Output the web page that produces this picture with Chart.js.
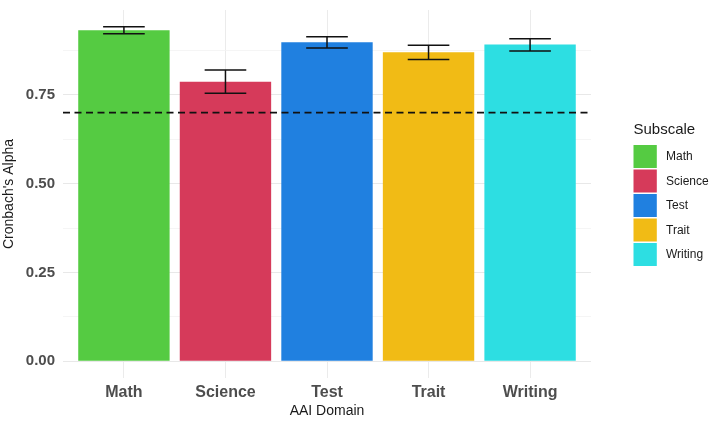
<!DOCTYPE html>
<html>
<head>
<meta charset="utf-8">
<script src="https://cdn.jsdelivr.net/npm/chart.js@4/dist/chart.umd.min.js"></script>
<style>
  html, body { margin: 0; padding: 0; background: #ffffff; }
  #wrap { width: 714px; height: 421px; }
</style>
</head>
<body>
<div id="wrap"><canvas id="c" width="714" height="421"></canvas></div>
<script>
// ---- data ----
const categories = ['Math', 'Science', 'Test', 'Trait', 'Writing'];
const alphaValues = [0.932, 0.787, 0.898, 0.870, 0.892];
const lowerCI = [0.922, 0.755, 0.882, 0.850, 0.874];
const upperCI = [0.942, 0.820, 0.914, 0.890, 0.908];
const yTickValues = [0, 0.25, 0.5, 0.75];
const thresholdValue = 0.7;
const legendTitle = 'Subscale';
const xTitle = 'AAI Domain';
const yTitle = "Cronbach's Alpha";

// ---- styles ----
const barColors = ['#55cb42', '#d63a5a', '#2080e0', '#f1bb15', '#2ddee2'];
const FONT = "'Liberation Sans', Arial, Helvetica, sans-serif";

const yMin = -0.0471, yMax = 0.9891;
const minorStep = 0.125;

const overlayPlugin = {
  id: 'overlay',
  afterDatasetsDraw(chart) {
    const ctx = chart.ctx;
    const xs = chart.scales.x, ys = chart.scales.y;
    const area = chart.chartArea;
    ctx.save();
    ctx.strokeStyle = '#111111';
    ctx.lineWidth = 1.6;
    ctx.setLineDash([7, 4.5]);
    const ty = ys.getPixelForValue(thresholdValue);
    ctx.beginPath();
    ctx.moveTo(area.left, ty);
    ctx.lineTo(area.right, ty);
    ctx.stroke();
    ctx.restore();
    ctx.save();
    ctx.strokeStyle = '#111111';
    ctx.lineWidth = 1.5;
    categories.forEach((c, i) => {
      const xc = xs.getPixelForValue(i + 1);
      const xl = xs.getPixelForValue(i + 1 - 0.205);
      const xr = xs.getPixelForValue(i + 1 + 0.205);
      const yl = ys.getPixelForValue(lowerCI[i]);
      const yu = ys.getPixelForValue(upperCI[i]);
      ctx.beginPath();
      ctx.moveTo(xc, yl); ctx.lineTo(xc, yu);
      ctx.moveTo(xl, yl); ctx.lineTo(xr, yl);
      ctx.moveTo(xl, yu); ctx.lineTo(xr, yu);
      ctx.stroke();
    });
    ctx.restore();
  },
  afterDraw(chart) {
    const ctx = chart.ctx;
    ctx.save();
    const lx = 633.5, titleY = 129.5;
    ctx.fillStyle = '#1a1a1a';
    ctx.font = '15px ' + FONT;
    ctx.textBaseline = 'middle';
    ctx.textAlign = 'left';
    ctx.fillText(legendTitle, lx, titleY);
    const keyTop = 145, keyH = 23, keyW = 23.3, gap = 1.5;
    ctx.font = '12px ' + FONT;
    categories.forEach((c, i) => {
      const y = keyTop + i * (keyH + gap);
      ctx.fillStyle = barColors[i];
      ctx.fillRect(lx, y, keyW, keyH);
      ctx.fillStyle = '#1a1a1a';
      ctx.fillText(c, 666, y + keyH / 2 + 0.5);
    });
    ctx.restore();
  }
};

new Chart(document.getElementById('c'), {
  type: 'bar',
  data: {
    datasets: [{
      label: 'Subscale',
      data: categories.map((c, i) => ({ x: i + 1, y: alphaValues[i] })),
      backgroundColor: barColors,
      borderWidth: 0,
      barPercentage: 0.9,
      categoryPercentage: 1.0
    }]
  },
  options: {
    responsive: false,
    devicePixelRatio: 1,
    animation: false,
    layout: { padding: { left: 0, right: 123, top: 10, bottom: 0 } },
    plugins: {
      legend: { display: false },
      tooltip: { enabled: false }
    },
    scales: {
      x: {
        type: 'linear',
        min: 0.4,
        max: 5.6,
        offset: false,
        border: { display: false },
        grid: { color: '#ebebeb', lineWidth: 1, drawTicks: false, offset: false },
        afterBuildTicks(scale) {
          scale.ticks = categories.map((c, i) => ({ value: i + 1 }));
        },
        afterFit(scale) { scale.height = 43; },
        ticks: {
          padding: 5,
          color: '#4d4d4d',
          font: { family: FONT, size: 16, weight: 'bold' },
          autoSkip: false,
          maxRotation: 0,
          callback: (v) => categories[Math.round(v) - 1] || ''
        },
        title: {
          display: true,
          text: xTitle,
          color: '#1a1a1a',
          font: { family: FONT, size: 14 },
          padding: { top: 0, bottom: 1 }
        }
      },
      y: {
        type: 'linear',
        min: yMin,
        max: yMax,
        border: { display: false },
        afterBuildTicks(scale) {
          const t = [];
          for (let v = 0; v <= 0.88; v += minorStep) t.push({ value: Math.round(v * 1000) / 1000 });
          scale.ticks = t;
        },
        afterFit(scale) {
          scale.width = 63;
          scale.paddingTop = 0;
          scale.paddingBottom = 0;
        },
        grid: {
          drawTicks: false,
          color: (ctx) => yTickValues.some(t => Math.abs(t - ctx.tick.value) < 1e-6) ? '#e8e8e8' : '#f3f3f3',
          lineWidth: (ctx) => yTickValues.some(t => Math.abs(t - ctx.tick.value) < 1e-6) ? 1.1 : 0.8
        },
        ticks: {
          padding: 8,
          color: '#4d4d4d',
          font: { family: FONT, size: 15, weight: 'bold' },
          autoSkip: false,
          callback: (v) => yTickValues.some(t => Math.abs(t - v) < 1e-6) ? Number(v).toFixed(2) : ''
        },
        title: {
          display: true,
          text: yTitle,
          color: '#1a1a1a',
          font: { family: FONT, size: 14 },
          padding: { top: 1, bottom: 0 }
        }
      }
    }
  },
  plugins: [overlayPlugin]
});
</script>
</body>
</html>
